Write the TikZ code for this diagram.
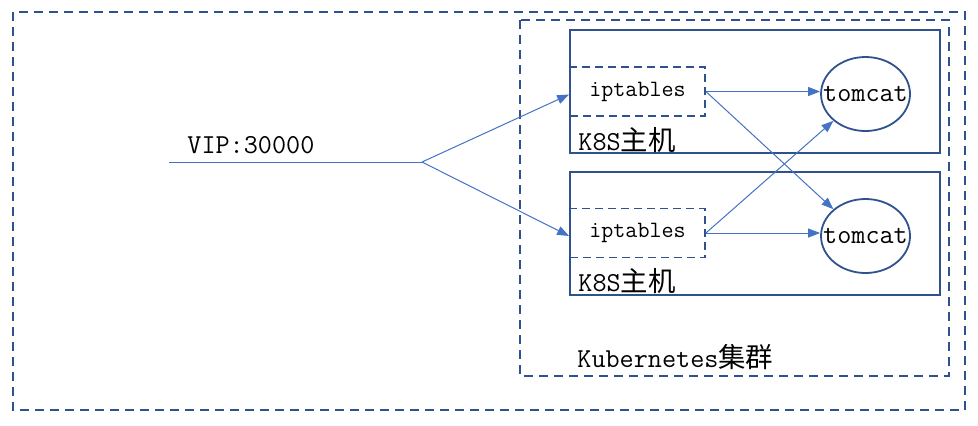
\documentclass[tikz,border=0pt]{standalone}
\usepackage{fontspec}
\usepackage{tikz}
\usetikzlibrary{arrows.meta,shapes.geometric}
\newfontfamily\cjk{Noto Sans CJK SC}
\definecolor{framec}{HTML}{2F528F}
\definecolor{linkc}{HTML}{4472C4}
\tikzset{
  outerbox/.style={draw=framec,line width=1pt,dash pattern=on 4.5pt off 3pt},
  hostbox/.style={draw=framec,line width=1pt},
  iptbox/.style={draw=framec,line width=0.9pt,dash pattern=on 4pt off 2.5pt,
    minimum width=67.5pt,minimum height=24.5pt,inner sep=0pt,
    font=\ttfamily\fontsize{11.7}{13}\selectfont},
  tcnode/.style={ellipse,draw=framec,line width=0.9pt,minimum width=44.5pt,
    minimum height=37pt,inner sep=0pt,
    label={[inner sep=0pt,font=\ttfamily\fontsize{13.7}{15}\selectfont]center:#1}},
  txt/.style={anchor=west,inner sep=0pt,font=\ttfamily\fontsize{13.7}{16}\selectfont},
  link/.style={draw=linkc,line width=0.5pt,-{Triangle[length=6pt,width=4.5pt]}}
}
\begin{document}
\begin{tikzpicture}[x=0.5pt,y=-0.5pt]
\useasboundingbox (0,0) rectangle (978,425);
% frames
\draw[outerbox] (13,12) rectangle (965,410);
\draw[outerbox] (520,20) rectangle (949,376);
\draw[hostbox] (570,30) rectangle (940,153);
\draw[hostbox] (570,172) rectangle (940,295);
% labels
\node[txt] (vip) at (187,145) {VIP:30000};
\node[txt] (host1) at (578,140) {K8S{\cjk 主机}};
\node[txt] (host2) at (578,281) {K8S{\cjk 主机}};
\node[txt] (k8s) at (577,357) {Kubernetes{\cjk 集群}};
% iptables and tomcat
\node[iptbox] (ipt1) at (637.5,91.5) {iptables};
\node[iptbox] (ipt2) at (637.5,233) {iptables};
\node[tcnode=tomcat] (tc1) at (865.5,94) {};
\node[tcnode=tomcat] (tc2) at (865.5,236) {};
% links
\coordinate (in) at (169,162);
\coordinate (split) at (422,162);
\draw[draw=linkc,line width=0.5pt] (in) -- (split);
\draw[link] (split) -- ([yshift=-1.5pt]ipt1.west);
\draw[link] (split) -- ([yshift=-1.5pt]ipt2.west);
\draw[link] (ipt1.east) -- (ipt1.east -| tc1.west);
\draw[link] (ipt2.east) -- (ipt2.east -| tc2.west);
\draw[link] (ipt1.east) -- (tc2.north west);
\draw[link] (ipt2.east) -- (tc1.south west);
\end{tikzpicture}
\end{document}
